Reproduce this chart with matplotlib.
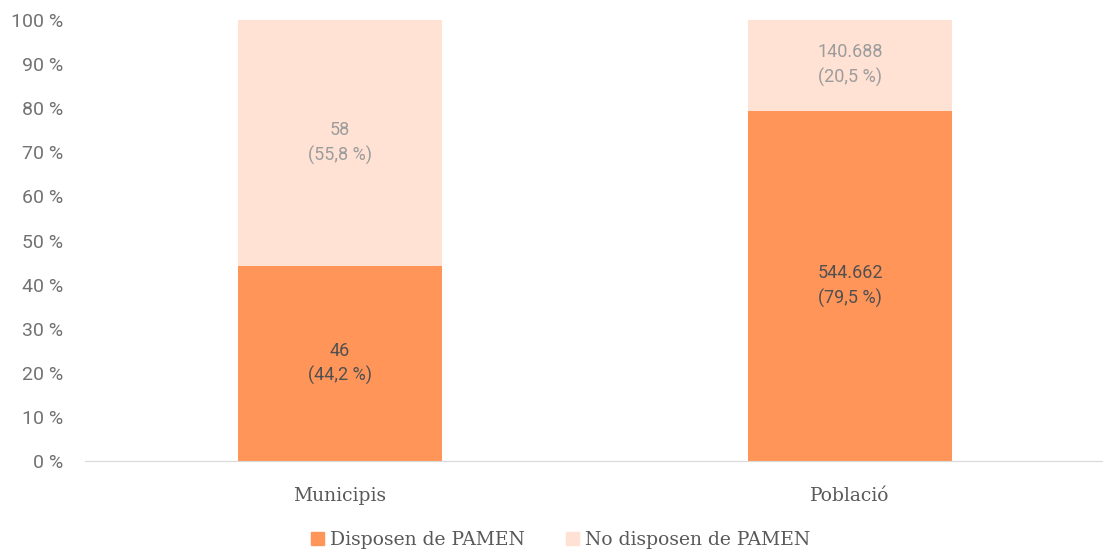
import matplotlib.pyplot as plt
from matplotlib.patches import Patch

# data
categories = ['Municipis', 'Població']
disposen = [46, 544662]
no_disposen = [58, 140688]
series_names = ['Disposen de PAMEN', 'No disposen de PAMEN']

col_dark = '#FF9559'
col_light = '#FFE2D4'

def fmt(n):
    return f'{n:,}'.replace(',', '.')

def pct(v):
    return '(' + f'{v:.1f}'.replace('.', ',') + ' %)'

totals = [a + b for a, b in zip(disposen, no_disposen)]
pct_yes = [100 * a / t for a, t in zip(disposen, totals)]
pct_no = [100 * b / t for b, t in zip(no_disposen, totals)]

plt.rcParams['font.family'] = ['Roboto', 'DejaVu Sans']

fig = plt.figure(figsize=(11.03, 5.54), dpi=100)
ax = fig.add_axes([85 / 1103, 93 / 554, 1020 / 1103, 441 / 554])

x = range(len(categories))
ax.bar(x, pct_yes, width=0.4, color=col_dark)
ax.bar(x, pct_no, width=0.4, bottom=pct_yes, color=col_light)

for i in x:
    ax.text(i, pct_yes[i] / 2, f'{fmt(disposen[i])}\n{pct(pct_yes[i])}',
            ha='center', va='center', fontsize=13, color='#505050', linespacing=1.45)
    ax.text(i, pct_yes[i] + pct_no[i] / 2, f'{fmt(no_disposen[i])}\n{pct(pct_no[i])}',
            ha='center', va='center', fontsize=13, color='#9c9c9c', linespacing=1.45)

ax.set_xlim(-0.5, 1.5)
ax.set_ylim(0, 100)
ax.set_yticks(range(0, 101, 10))
ax.set_yticklabels([f'{v} %' for v in range(0, 101, 10)])
ax.set_xticks(list(x))
ax.set_xticklabels(categories, family='DejaVu Serif', fontsize=13.5)
ax.tick_params(axis='y', length=0, labelsize=14, labelcolor='#727272', pad=16)
ax.tick_params(axis='x', length=0, labelcolor='#595959', pad=19)
for s in ['top', 'right', 'left']:
    ax.spines[s].set_visible(False)
ax.spines['bottom'].set_color('#D9D9D9')

handles = [Patch(color=col_dark), Patch(color=col_light)]
fig.legend(handles, series_names, loc='center', bbox_to_anchor=(0.508, 0.025),
           ncol=2, frameon=False, handlelength=0.7, handleheight=0.7,
           handletextpad=0.3, columnspacing=2.2,
           prop={'family': 'DejaVu Serif', 'size': 13.5}, labelcolor='#595959')

plt.savefig('out.png')
